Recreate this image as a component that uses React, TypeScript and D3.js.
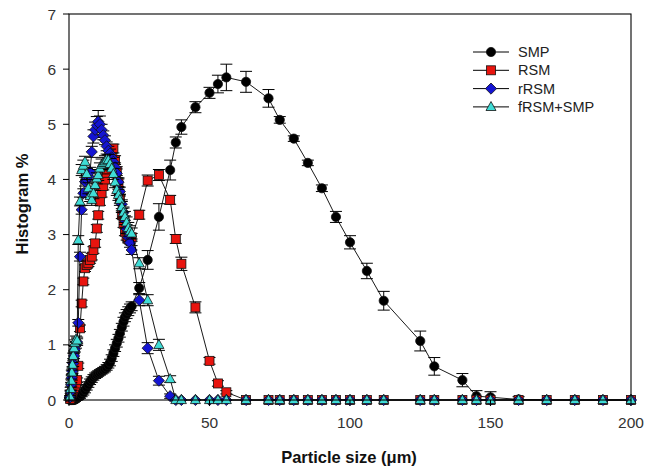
import React from "react";
import * as d3 from "d3";

// Particle size bins (µm)
const sizes = [
  0.4, 0.6, 0.8, 1.0, 1.2, 1.5, 1.8, 2.1, 2.5, 2.9,
  3.3, 3.9, 4.5, 5.1, 5.7, 6.3, 6.9, 7.5, 8.1, 8.7,
  9.3, 9.9, 10.4, 11.0, 11.6, 12.2, 12.8, 13.4, 14.0, 14.6,
  15.2, 15.8, 16.4, 17.0, 17.6, 18.1, 18.8, 19.4, 19.9, 20.5,
  21.1, 21.7, 22.3, 25, 28, 32, 36, 38, 40, 45,
  50, 53, 56, 63, 71, 75, 80, 85, 90, 95,
  100, 106, 112, 125, 130, 140, 145, 150, 160, 170,
  180, 190, 200,
];

// Histogram % per bin
const smp = [
  0, 0, 0, 0, 0, 0, 0, 0.01, 0.02, 0.03,
  0.05, 0.07, 0.10, 0.14, 0.18, 0.23, 0.28, 0.33, 0.37, 0.41,
  0.44, 0.46, 0.48, 0.50, 0.52, 0.54, 0.56, 0.59, 0.63, 0.68,
  0.76, 0.85, 0.94, 1.03, 1.12, 1.21, 1.32, 1.42, 1.50, 1.56,
  1.61, 1.66, 1.70, 2.03, 2.54, 3.32, 4.17, 4.67, 4.95, 5.31,
  5.57, 5.73, 5.85, 5.77, 5.47, 5.08, 4.74, 4.30, 3.84, 3.32,
  2.86, 2.34, 1.80, 1.07, 0.61, 0.36, 0.07, 0.05, 0.01, 0,
  0, 0, 0,
];
const smpErr = [
  0, 0, 0, 0, 0, 0, 0, 0.03, 0.03, 0.03,
  0.04, 0.04, 0.04, 0.05, 0.05, 0.05, 0.05, 0.05, 0.05, 0.05,
  0.05, 0.05, 0.05, 0.05, 0.05, 0.05, 0.05, 0.05, 0.05, 0.06,
  0.06, 0.06, 0.06, 0.07, 0.07, 0.07, 0.07, 0.08, 0.08, 0.08,
  0.08, 0.08, 0.08, 0.10, 0.17, 0.24, 0.18, 0.10, 0.13, 0.10,
  0.10, 0.16, 0.24, 0.19, 0.16, 0.06, 0.05, 0.05, 0.06, 0.10,
  0.12, 0.14, 0.17, 0.18, 0.16, 0.12, 0.10, 0.10, 0.05, 0,
  0, 0, 0,
];

const rsm = [
  0.02, 0.05, 0.08, 0.12, 0.15, 0.18, 0.22, 0.26, 0.30, 0.36,
  0.62, 1.30, 1.75, 2.15, 2.39, 2.45, 2.48, 2.54, 2.60, 2.72,
  2.84, 3.11, 3.35, 3.60, 3.75, 3.88, 4.00, 4.12, 4.28, 4.44,
  4.52, 4.56, 4.35, 4.15, 3.93, 3.65, 3.36, 3.20, 3.05, 2.97,
  2.92, 2.90, 2.95, 3.36, 3.98, 4.08, 3.63, 2.92, 2.47, 1.68,
  0.71, 0.30, 0.14, 0, 0, 0, 0, 0, 0, 0,
  0, 0, 0, 0, 0, 0, 0, 0, 0, 0,
  0, 0, 0,
];
const rsmErr = [
  0.02, 0.02, 0.02, 0.03, 0.03, 0.03, 0.03, 0.03, 0.04, 0.04,
  0.05, 0.06, 0.06, 0.06, 0.06, 0.06, 0.06, 0.06, 0.06, 0.06,
  0.07, 0.07, 0.07, 0.07, 0.07, 0.07, 0.08, 0.08, 0.08, 0.08,
  0.08, 0.08, 0.08, 0.08, 0.08, 0.08, 0.07, 0.07, 0.07, 0.07,
  0.07, 0.07, 0.07, 0.08, 0.10, 0.10, 0.08, 0.08, 0.12, 0.10,
  0.06, 0.05, 0.03, 0, 0, 0, 0, 0, 0, 0,
  0, 0, 0, 0, 0, 0, 0, 0, 0, 0,
  0, 0, 0,
];

const rrsm = [
  0.05, 0.15, 0.28, 0.40, 0.52, 0.66, 0.80, 0.92, 1.00, 1.05,
  1.40, 2.60, 3.45, 3.75, 3.96, 4.00, 4.05, 4.14, 4.50, 4.78,
  4.90, 4.98, 5.05, 5.00, 4.90, 4.80, 4.71, 4.60, 4.52, 4.47,
  4.40, 4.32, 4.22, 4.11, 3.95, 3.78, 3.55, 3.40, 3.26, 3.10,
  2.95, 2.85, 2.72, 1.81, 0.94, 0.35, 0.07, 0, 0, 0,
  0, 0, 0, 0, 0, 0, 0, 0, 0, 0,
  0, 0, 0, 0, 0, 0, 0, 0, 0, 0,
  0, 0, 0,
];
const rrsmErr = [
  0.02, 0.03, 0.03, 0.04, 0.04, 0.05, 0.05, 0.05, 0.06, 0.06,
  0.06, 0.08, 0.08, 0.08, 0.08, 0.08, 0.08, 0.08, 0.10, 0.12,
  0.14, 0.16, 0.20, 0.15, 0.10, 0.08, 0.08, 0.08, 0.08, 0.08,
  0.08, 0.08, 0.08, 0.08, 0.08, 0.08, 0.08, 0.08, 0.08, 0.08,
  0.08, 0.08, 0.08, 0.10, 0.10, 0.08, 0.04, 0, 0, 0,
  0, 0, 0, 0, 0, 0, 0, 0, 0, 0,
  0, 0, 0, 0, 0, 0, 0, 0, 0, 0,
  0, 0, 0,
];

const frsm = [
  0.06, 0.20, 0.35, 0.50, 0.64, 0.80, 0.94, 1.04, 1.10, 1.08,
  2.90, 3.60, 4.17, 4.25, 4.32, 4.10, 3.84, 3.70, 3.63, 3.75,
  3.90, 4.02, 4.08, 4.20, 4.27, 4.30, 4.33, 4.36, 4.35, 4.28,
  4.20, 4.10, 3.95, 3.81, 3.72, 3.63, 3.50, 3.40, 3.32, 3.22,
  3.12, 3.06, 3.02, 2.48, 1.81, 1.00, 0.38, 0, 0, 0,
  0, 0, 0, 0, 0, 0, 0, 0, 0, 0,
  0, 0, 0, 0, 0, 0, 0, 0, 0, 0,
  0, 0, 0,
];
const frsmErr = [
  0.02, 0.03, 0.03, 0.04, 0.04, 0.05, 0.05, 0.05, 0.06, 0.06,
  0.08, 0.08, 0.10, 0.10, 0.10, 0.10, 0.10, 0.10, 0.10, 0.10,
  0.10, 0.10, 0.10, 0.10, 0.10, 0.10, 0.10, 0.10, 0.10, 0.10,
  0.10, 0.10, 0.10, 0.10, 0.10, 0.10, 0.10, 0.10, 0.10, 0.10,
  0.10, 0.10, 0.10, 0.10, 0.10, 0.10, 0.06, 0, 0, 0,
  0, 0, 0, 0, 0, 0, 0, 0, 0, 0,
  0, 0, 0, 0, 0, 0, 0, 0, 0, 0,
  0, 0, 0,
];

const seriesNames = ["SMP", "RSM", "rRSM", "fRSM+SMP"];
const seriesFills = ["#000000", "#e8140e", "#1414d2", "#3fdcd6"];
const seriesShapes = ["circle", "square", "diamond", "triangle"];
const seriesValues = [smp, rsm, rrsm, frsm];
const seriesErrors = [smpErr, rsmErr, rrsmErr, frsmErr];

const xTicks = [0, 50, 100, 150, 200];
const yTicks = [0, 1, 2, 3, 4, 5, 6, 7];

const FONT = "Arial, 'Liberation Sans', sans-serif";

function Marker({ shape, cx, cy, fill }: { shape: string; cx: number; cy: number; fill: string }) {
  const stroke = "#111";
  const sw = 0.8;
  if (shape === "circle") {
    return <circle cx={cx} cy={cy} r={4.6} fill={fill} stroke={stroke} strokeWidth={sw} />;
  }
  if (shape === "square") {
    return <rect x={cx - 4.5} y={cy - 4.5} width={9} height={9} fill={fill} stroke={stroke} strokeWidth={sw} />;
  }
  if (shape === "diamond") {
    const r = 5.6;
    return (
      <path
        d={`M${cx},${cy - r}L${cx + r},${cy}L${cx},${cy + r}L${cx - r},${cy}Z`}
        fill={fill}
        stroke={stroke}
        strokeWidth={sw}
      />
    );
  }
  const h = 9;
  const w = 10;
  return (
    <path
      d={`M${cx},${cy - h * 0.6}L${cx + w / 2},${cy + h * 0.4}L${cx - w / 2},${cy + h * 0.4}Z`}
      fill={fill}
      stroke={stroke}
      strokeWidth={sw}
    />
  );
}

export default function App() {
  const left = 69, right = 631, top = 14, bottom = 400;
  const x = d3.scaleLinear().domain([0, 200]).range([left, right]);
  const y = d3.scaleLinear().domain([0, 7]).range([bottom, top]);

  const line = d3
    .line<number>()
    .x((_, i) => x(sizes[i]))
    .y((d) => y(d));

  const legendX = 473;
  const legendY0 = 52;
  const legendDy = 18.3;

  return (
    <svg
      width={645}
      height={469}
      style={{ position: "absolute", left: 0, top: 0, background: "#fff" }}
      fontFamily={FONT}
    >
      <rect x={0} y={0} width={645} height={469} fill="#fff" />

      {/* series: line, error bars, then symbols */}
      {seriesValues.map((vals, s) => (
        <g key={seriesNames[s]}>
          <path d={line(vals) || ""} fill="none" stroke="#000" strokeWidth={0.9} />
          {vals.map((v, i) => {
            const e = seriesErrors[s][i];
            if (!e) return null;
            const cx = x(sizes[i]);
            const y1 = y(v + e);
            const y2 = y(Math.max(0, v - e));
            return (
              <g key={i} stroke="#000" strokeWidth={1}>
                <line x1={cx} x2={cx} y1={y1} y2={y2} />
                <line x1={cx - 6} x2={cx + 6} y1={y1} y2={y1} />
                <line x1={cx - 6} x2={cx + 6} y1={y2} y2={y2} />
              </g>
            );
          })}
          {vals.map((v, i) => (
            <Marker key={i} shape={seriesShapes[s]} cx={x(sizes[i])} cy={y(v)} fill={seriesFills[s]} />
          ))}
        </g>
      ))}

      {/* frame */}
      <rect x={left} y={top} width={right - left} height={bottom - top} fill="none" stroke="#000" strokeWidth={1.1} />

      {/* y axis */}
      {yTicks.map((t) => (
        <g key={t}>
          <line x1={left - 6} x2={left} y1={y(t)} y2={y(t)} stroke="#000" strokeWidth={1} />
          <text x={left - 13} y={y(t) + 5.5} textAnchor="end" fontSize={15.5} fill="#333">
            {t}
          </text>
        </g>
      ))}

      {/* x axis */}
      {xTicks.map((t) => (
        <g key={t}>
          <line x1={x(t)} x2={x(t)} y1={bottom} y2={bottom + 6} stroke="#000" strokeWidth={1} />
          <text x={x(t)} y={bottom + 28} textAnchor="middle" fontSize={15.5} fill="#333">
            {t}
          </text>
        </g>
      ))}

      {/* axis titles */}
      <text x={349} y={463} textAnchor="middle" fontSize={16.5} fontWeight="bold" fill="#111">
        Particle size (μm)
      </text>
      <text
        transform={`translate(28,204) rotate(-90)`}
        textAnchor="middle"
        fontSize={16.5}
        fontWeight="bold"
        fill="#111"
      >
        Histogram %
      </text>

      {/* legend */}
      {seriesNames.map((name, s) => {
        const ly = legendY0 + s * legendDy;
        return (
          <g key={name}>
            <line x1={legendX} x2={legendX + 36} y1={ly} y2={ly} stroke="#000" strokeWidth={1} />
            <Marker shape={seriesShapes[s]} cx={legendX + 18} cy={ly} fill={seriesFills[s]} />
            <text x={legendX + 45} y={ly + 5} fontSize={14.5} fill="#222">
              {name}
            </text>
          </g>
        );
      })}
    </svg>
  );
}
